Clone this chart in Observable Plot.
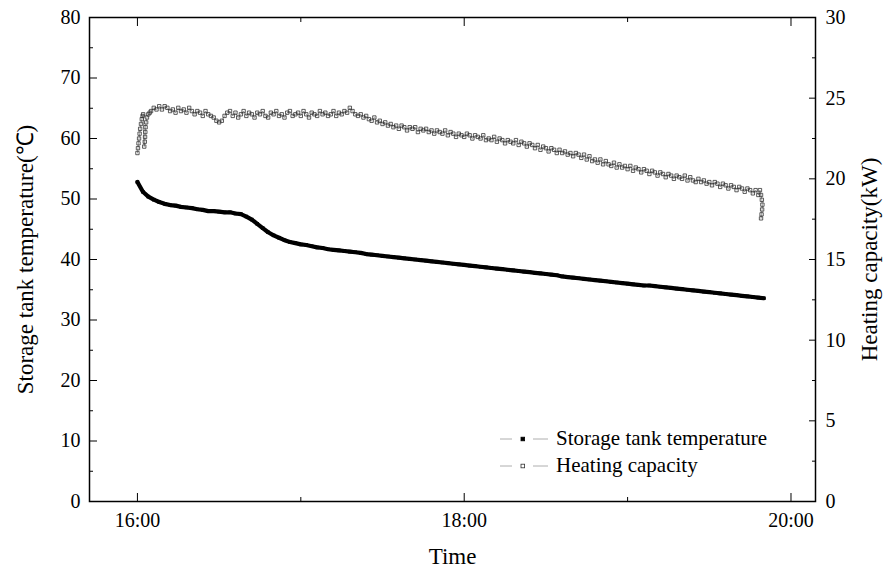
<!DOCTYPE html>
<html><head><meta charset="utf-8">
<script src="https://cdn.jsdelivr.net/npm/d3@7"></script>
<script src="https://cdn.jsdelivr.net/npm/@observablehq/plot@0.6"></script>
<style>
body{margin:0;background:#fff;}
#wrap{position:relative;width:884px;height:571px;}
#legend{position:absolute;left:498px;top:425px;font-family:"Liberation Serif","Times New Roman",serif;font-size:21px;color:#000;}
.row{display:flex;align-items:center;height:27px;white-space:nowrap;}
.row svg{margin-right:6px;flex:none}
</style></head><body><div id="wrap"></div><script>
// ---- data ----
const xTickLabels = ["16:00", "18:00", "20:00"];
const xMinorLabels = ["17:00", "19:00"];
const leftTicks = [0, 10, 20, 30, 40, 50, 60, 70, 80];
const leftMinor = [5, 15, 25, 35, 45, 55, 65, 75];
const rightTicks = [0, 5, 10, 15, 20, 25, 30];
const rightMinor = [2.5, 7.5, 12.5, 17.5, 22.5, 27.5];
const seriesNames = ["Storage tank temperature", "Heating capacity"];

// storage tank temperature (°C), every 2 minutes from 16:00
const tempStepMinutes = 2;
const tempValues = [
52.8,51.2,50.4,49.9,49.5,49.2,49.0,48.9,48.7,48.6,
48.5,48.3,48.2,48.0,48.0,47.9,47.8,47.8,47.6,47.5,
47.1,46.6,45.9,45.2,44.5,44.0,43.6,43.2,42.9,42.7,
42.5,42.4,42.2,42.0,41.9,41.7,41.6,41.5,41.4,41.3,
41.2,41.1,40.9,40.8,40.7,40.6,40.5,40.4,40.3,40.2,
40.1,40.0,39.9,39.8,39.7,39.6,39.5,39.4,39.3,39.2,
39.1,39.0,38.9,38.8,38.7,38.6,38.5,38.4,38.3,38.2,
38.1,38.0,37.9,37.8,37.7,37.6,37.5,37.4,37.2,37.1,
37.0,36.9,36.8,36.7,36.6,36.5,36.4,36.3,36.2,36.1,
36.0,35.9,35.8,35.7,35.7,35.6,35.5,35.4,35.3,35.2,
35.1,35.0,34.9,34.8,34.7,34.6,34.5,34.4,34.3,34.2,
34.1,34.0,33.9,33.8,33.7,33.6
];

// heating capacity (kW): start-up samples (minutes after 16:00)
const capStartMinutes = [0.0,0.2,0.4,0.6,0.8,1.0,1.3,1.6,1.9,2.1,2.5,2.7,2.8,2.9,3.0,3.2,3.5,4.0,4.5];
const capStartValues  = [21.6,21.9,22.2,22.5,22.8,23.1,23.4,23.7,23.9,24.0,22.0,22.3,22.6,22.9,23.2,23.5,23.8,24.0,24.1];
// every minute from 16:05 to 19:48
const capFirstMinute = 5;
const capValues = [
24.2,24.4,24.3,24.5,24.3,24.5,24.4,24.2,24.3,24.1,
24.4,24.2,24.3,24.1,24.4,24.2,24.0,24.2,24.1,23.9,
24.2,24.0,23.9,23.8,23.6,23.5,23.6,23.9,24.1,24.2,
23.9,24.1,23.8,24.0,24.2,23.9,24.1,24.0,23.8,24.1,
24.0,24.2,23.9,23.8,24.1,24.0,24.2,23.9,24.0,23.8,
24.1,24.2,23.9,24.0,24.1,23.9,24.2,24.0,23.8,24.1,
24.0,23.9,24.2,24.0,24.1,23.9,24.0,24.2,23.9,24.1,
24.0,24.2,24.1,24.4,24.2,24.0,23.9,24.0,23.8,23.9,
23.7,23.6,23.8,23.5,23.6,23.4,23.5,23.3,23.4,23.2,
23.3,23.1,23.3,23.2,23.0,23.2,23.1,23.2,22.9,23.1,
23.0,23.1,22.9,23.0,22.8,23.0,22.9,22.8,23.0,22.7,
22.9,22.8,22.6,22.8,22.7,22.6,22.8,22.7,22.5,22.7,
22.6,22.5,22.7,22.4,22.5,22.4,22.6,22.3,22.5,22.4,
22.2,22.4,22.3,22.2,22.4,22.1,22.3,22.2,22.0,22.2,
22.1,21.9,22.1,21.8,22.0,21.9,21.7,21.9,21.8,21.6,
21.8,21.6,21.7,21.5,21.6,21.4,21.6,21.5,21.3,21.5,
21.2,21.4,21.1,21.2,21.0,21.2,20.9,21.1,20.9,20.8,
21.0,20.7,20.9,20.7,20.8,20.6,20.8,20.5,20.7,20.6,
20.4,20.6,20.5,20.3,20.5,20.4,20.2,20.4,20.3,20.1,
20.3,20.2,20.0,20.2,20.1,20.0,20.2,19.9,20.1,19.9,
19.8,20.0,19.8,19.9,19.7,19.8,19.6,19.8,19.7,19.5,
19.7,19.6,19.4,19.6,19.5,19.3,19.5,19.4,19.2,19.4,
19.3,19.1,19.3,19.0
];
// final samples when the unit stops
const capEndMinutes = [228.6,229.0,229.3,229.5,229.4,229.2,229.0];
const capEndValues  = [19.3,19.0,18.7,18.4,18.1,17.8,17.55];

// ---- build ----
const parseHM = d3.utcParse("%H:%M");
const fmtHM = d3.utcFormat("%H:%M");
const base = parseHM("16:00").getTime();
const t = m => new Date(base + m * 60000);
const k = 80 / 30; // kW -> left-axis units

const temp = tempValues.map((v, i) => ({time: t(i * tempStepMinutes), v}));
const cap = [
  ...capStartMinutes.map((m, i) => ({time: t(m), kw: capStartValues[i]})),
  ...capValues.map((v, i) => ({time: t(capFirstMinute + i), kw: v})),
  ...capEndMinutes.map((m, i) => ({time: t(m), kw: capEndValues[i]}))
];

const xMajor = xTickLabels.map(parseHM);
const xMinor = xMinorLabels.map(parseHM);
const blank = () => "";

const chart = Plot.plot({
  width: 884, height: 571,
  marginLeft: 89, marginRight: 69, marginTop: 17, marginBottom: 70,
  x: {type: "utc", domain: [t(-17.6), t(249)], label: null},
  y: {domain: [0, 80], label: null},
  style: {fontFamily: "'Liberation Serif','Times New Roman',serif", fontSize: "20px", color: "black", background: "white"},
  marks: [
    Plot.line(cap, {x: "time", y: d => d.kw * k, stroke: "#777", strokeWidth: 0.7}),
    Plot.dot(cap, {x: "time", y: d => d.kw * k, symbol: "square", r: 1.9, stroke: "#333", strokeWidth: 0.8, fill: "none"}),
    Plot.line(temp, {x: "time", y: "v", stroke: "black", strokeWidth: 4.2}),
    Plot.dot(temp, {x: "time", y: "v", symbol: "square", r: 2, fill: "black"}),
    Plot.frame({stroke: "black", strokeWidth: 1.5}),
    Plot.axisX(xMajor, {anchor: "bottom", tickSize: -8, tickPadding: 19, tickFormat: fmtHM, label: null}),
    Plot.axisX(xMinor, {anchor: "bottom", tickSize: -4, tickFormat: blank, label: null}),
    Plot.axisX(xMajor, {anchor: "top", tickSize: -8, tickFormat: blank, label: null}),
    Plot.axisX(xMinor, {anchor: "top", tickSize: -4, tickFormat: blank, label: null}),
    Plot.axisY(leftTicks, {anchor: "left", tickSize: -8, tickPadding: 17, label: null}),
    Plot.axisY(leftMinor, {anchor: "left", tickSize: -4, tickFormat: blank, label: null}),
    Plot.axisY(rightTicks.map(v => v * k), {anchor: "right", tickSize: -7, tickPadding: 17, tickFormat: d => String(Math.round(d / k)), label: null}),
    Plot.axisY(rightMinor.map(v => v * k), {anchor: "right", tickSize: -4, tickFormat: blank, label: null}),
    Plot.text(["Time"], {frameAnchor: "bottom", dy: 55, fontSize: 23, lineAnchor: "middle", textAnchor: "middle"}),
    Plot.text(["Storage tank temperature(℃)"], {frameAnchor: "left", dx: -64, rotate: -90, fontSize: 23, lineAnchor: "middle", textAnchor: "middle"}),
    Plot.text(["Heating capacity(kW)"], {frameAnchor: "right", dx: 54, rotate: -90, fontSize: 23, lineAnchor: "middle", textAnchor: "middle"})
  ]
});
const wrap = document.getElementById("wrap");
wrap.appendChild(chart);

// legend inside plot area
const legend = document.createElement("div");
legend.id = "legend";
const sample = filled => `<svg width="52" height="10" viewBox="0 0 52 10">
  <line x1="2" y1="5" x2="14" y2="5" stroke="#999" stroke-width="0.8"/>
  <line x1="35" y1="5" x2="50" y2="5" stroke="#999" stroke-width="0.8"/>
  <rect x="23" y="3.2" width="3.6" height="3.6" fill="${filled ? "black" : "white"}" stroke="${filled ? "black" : "#333"}" stroke-width="0.8"/>
</svg>`;
legend.innerHTML = seriesNames.map((n, i) => `<div class="row">${sample(i === 0)}<span>${n}</span></div>`).join("");
wrap.appendChild(legend);
</script></body></html>
